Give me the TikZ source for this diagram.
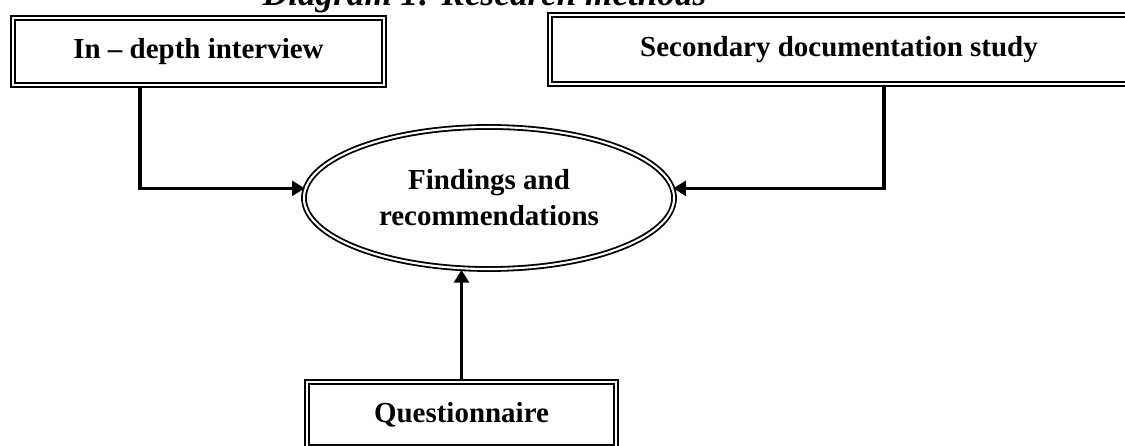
\documentclass[tikz,border=0pt]{standalone}
\usepackage{fontspec}
\setmainfont{Liberation Serif}
\usetikzlibrary{arrows.meta,shapes.geometric}
\begin{document}
\begin{tikzpicture}[x=0.025cm,y=-0.025cm,
    box/.style={draw,double,double distance=1.5pt,line width=1.3pt,align=center,
      font=\fontsize{20.6}{25.6}\selectfont\bfseries},
    oval/.style={box,ellipse},
    link/.style={line width=2.3pt,-{Triangle[length=9pt,width=10.5pt]}}]
    \useasboundingbox (0,0) rectangle (1125,446);
    \clip (0,0) rectangle (1125,446);
    \node[font=\fontsize{25}{30}\selectfont\bfseries\itshape,anchor=base west] (title) at (258,6) {Diagram 1: Research methods};

    \node[box,minimum width=9.275cm,minimum height=1.675cm] (interview) at (198.5,51.5) {In -- depth interview};
    \node[box,minimum width=14.45cm,minimum height=1.725cm] (secondary) at (839,49.5) {Secondary documentation study};
    \node[oval,minimum width=9.25cm,minimum height=3.55cm] (findings) at (489,198) {Findings and\\recommendations};
    \node[box,minimum width=7.725cm,minimum height=1.625cm] (questionnaire) at (461.5,414.5) {Questionnaire};

    \coordinate (lfoot) at (140,88);
    \coordinate (rfoot) at (884,87);
    \draw[link] (lfoot) |- (findings.177);
    \draw[link] (rfoot) |- (findings.3);
    \draw[link] (questionnaire.north) -- (questionnaire.north |- findings.south);
\end{tikzpicture}
\end{document}
